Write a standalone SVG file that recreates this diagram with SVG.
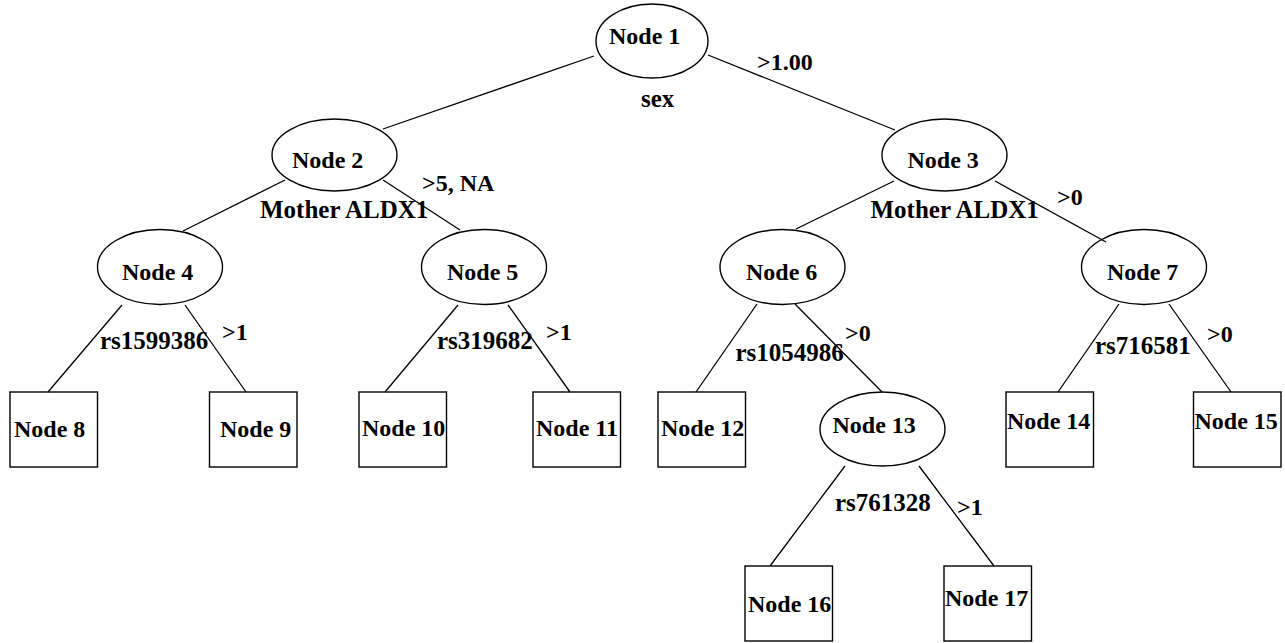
<svg xmlns="http://www.w3.org/2000/svg" width="1285" height="643" viewBox="0 0 1285 643">
<style>
  .bg { fill: #ffffff; }
  .n ellipse, .n rect { fill: none; stroke: #000; stroke-width: 1.4; }
  text { font-family: "Liberation Serif", "Times New Roman", serif; font-weight: bold; font-size: 24px; fill: #000; }
  text.v { font-size: 25px; }
  .edges line { stroke: #000; stroke-width: 1.3; }
</style>
<rect class="bg" x="0" y="0" width="1285" height="643"/>
<g id="connectors" class="edges">
  <line x1="594" y1="56" x2="383" y2="129"/>
  <line x1="708" y1="55" x2="895" y2="130"/>
  <line x1="285" y1="180" x2="183" y2="231"/>
  <line x1="383" y1="180" x2="460" y2="230"/>
  <line x1="894" y1="181" x2="796" y2="229"/>
  <line x1="995" y1="181" x2="1106" y2="242"/>
  <line x1="122" y1="305" x2="48" y2="392"/>
  <line x1="185" y1="305" x2="246" y2="392"/>
  <line x1="458" y1="305" x2="385" y2="392"/>
  <line x1="508" y1="305" x2="570" y2="392"/>
  <line x1="757" y1="304" x2="696" y2="392"/>
  <line x1="795" y1="304" x2="882" y2="392"/>
  <line x1="1119" y1="304" x2="1058" y2="392"/>
  <line x1="1169" y1="304" x2="1231" y2="392"/>
  <line x1="845" y1="466" x2="770" y2="566"/>
  <line x1="919" y1="466" x2="994" y2="566"/>
</g>
<g id="edge-labels">
  <text x="757" y="70">&gt;1.00</text>
  <text x="422" y="191">&gt;5, NA</text>
  <text x="1057" y="205">&gt;0</text>
  <text x="222" y="340">&gt;1</text>
  <text x="546" y="340">&gt;1</text>
  <text x="845" y="341">&gt;0</text>
  <text x="1207" y="342">&gt;0</text>
  <text x="957" y="515">&gt;1</text>
</g>
<g id="node1" class="n"><ellipse cx="652" cy="41" rx="56" ry="37"/><text x="609" y="44">Node 1</text><text class="v" x="641" y="107">sex</text></g>
<g id="node2" class="n"><ellipse cx="334.5" cy="155" rx="62.5" ry="36"/><text x="292" y="168">Node 2</text><text class="v" x="260" y="218">Mother ALDX1</text></g>
<g id="node3" class="n"><ellipse cx="944.5" cy="155" rx="62.5" ry="36"/><text x="907.5" y="168">Node 3</text><text class="v" x="870.5" y="218">Mother ALDX1</text></g>
<g id="node4" class="n"><ellipse cx="160" cy="267" rx="62.5" ry="37.5"/><text x="122" y="280">Node 4</text><text class="v" x="100" y="349">rs1599386</text></g>
<g id="node5" class="n"><ellipse cx="484" cy="267" rx="62.5" ry="37.5"/><text x="447" y="280">Node 5</text><text class="v" x="437" y="349">rs319682</text></g>
<g id="node6" class="n"><ellipse cx="782.5" cy="267" rx="62.5" ry="37.5"/><text x="746" y="280">Node 6</text><text class="v" x="735.5" y="361">rs1054986</text></g>
<g id="node7" class="n"><ellipse cx="1144" cy="267" rx="62.5" ry="37.5"/><text x="1107" y="280">Node 7</text><text class="v" x="1095" y="354">rs716581</text></g>
<g id="node8" class="n"><rect x="10" y="392" width="87.5" height="75"/><text x="14" y="437">Node 8</text></g>
<g id="node9" class="n"><rect x="209.5" y="392" width="87.5" height="75"/><text x="220" y="437">Node 9</text></g>
<g id="node10" class="n"><rect x="359" y="392" width="87.5" height="75"/><text x="362" y="436">Node 10</text></g>
<g id="node11" class="n"><rect x="533" y="392" width="87.5" height="75"/><text x="536" y="436">Node 11</text></g>
<g id="node12" class="n"><rect x="658" y="392" width="87.5" height="75"/><text x="661" y="436">Node 12</text></g>
<g id="node13" class="n"><ellipse cx="882.5" cy="429" rx="62.5" ry="37"/><text x="832.5" y="433">Node 13</text><text class="v" x="835" y="511">rs761328</text></g>
<g id="node14" class="n"><rect x="1006" y="392" width="87.5" height="75"/><text x="1007" y="429">Node 14</text></g>
<g id="node15" class="n"><rect x="1193.5" y="392" width="87.5" height="75"/><text x="1194.5" y="429">Node 15</text></g>
<g id="node16" class="n"><rect x="745" y="566" width="87.5" height="75"/><text x="748" y="612">Node 16</text></g>
<g id="node17" class="n"><rect x="944" y="566" width="87.5" height="75"/><text x="945" y="606">Node 17</text></g>
</svg>
